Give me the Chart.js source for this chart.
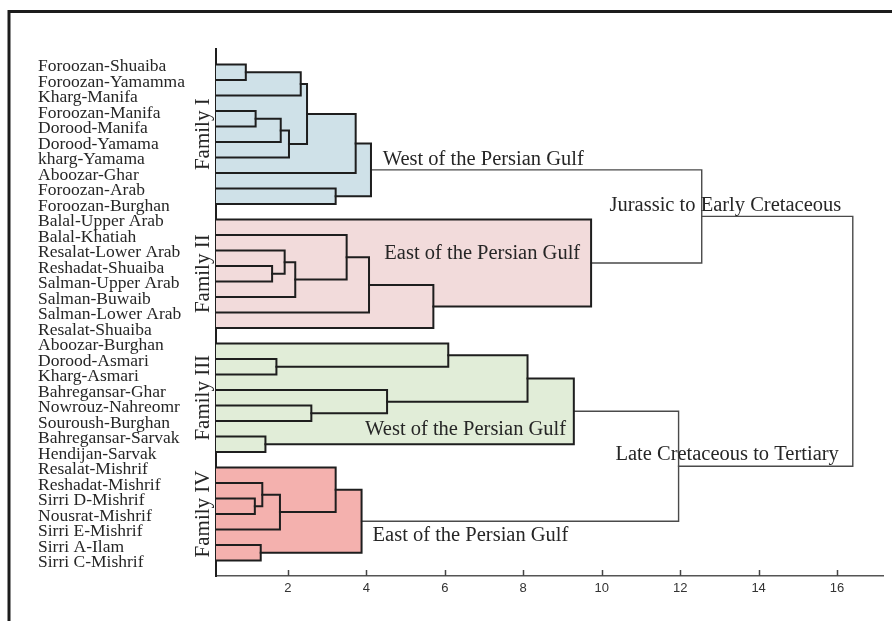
<!DOCTYPE html>
<html><head><meta charset="utf-8">
<script src="https://cdn.jsdelivr.net/npm/chart.js@4.4.1/dist/chart.umd.min.js"></script>
<style>html,body{margin:0;padding:0;background:#fff;}canvas{display:block;}</style>
</head><body>
<canvas id="c" width="892" height="621"></canvas>
<script>
// ---------- data ----------
const leafNames = [
  'Foroozan-Shuaiba','Foroozan-Yamamma','Kharg-Manifa','Foroozan-Manifa','Dorood-Manifa',
  'Dorood-Yamama','kharg-Yamama','Aboozar-Ghar','Foroozan-Arab','Foroozan-Burghan',
  'Balal-Upper Arab','Balal-Khatiah','Resalat-Lower Arab','Reshadat-Shuaiba','Salman-Upper Arab',
  'Salman-Buwaib','Salman-Lower Arab','Resalat-Shuaiba',
  'Aboozar-Burghan','Dorood-Asmari','Kharg-Asmari','Bahregansar-Ghar','Nowrouz-Nahreomr',
  'Souroush-Burghan','Bahregansar-Sarvak','Hendijan-Sarvak',
  'Resalat-Mishrif','Reshadat-Mishrif','Sirri D-Mishrif','Nousrat-Mishrif','Sirri E-Mishrif',
  'Sirri A-Ilam','Sirri C-Mishrif'
];
// merges (ids >= 33 are earlier merges, in order)
const mergePairs = [
  [0,1],[33,2],[3,4],[35,5],[36,6],[34,37],[38,7],[8,9],[39,40],
  [13,14],[12,42],[43,15],[11,44],[45,16],[46,17],[10,47],
  [19,20],[18,49],[22,23],[21,51],[50,52],[24,25],[53,54],
  [28,29],[27,56],[57,30],[26,58],[31,32],[59,60],
  [41,48],[55,61],[62,63]
];
const mergeHeights = [
  0.93,2.33,1.18,1.82,2.03,2.49,3.73,3.22,4.12,
  1.60,1.92,2.19,3.50,4.07,5.71,9.73,
  1.71,6.09,2.60,4.53,8.11,1.43,9.29,
  1.16,1.35,1.80,3.22,1.31,3.88,
  12.55,11.96,16.40
];
const familyNames = ['Family I','Family II','Family III','Family IV'];
const familyFirstLeaf = [0,10,18,26];
const familyLastLeaf = [9,17,25,32];
const noteTexts = ['West of the Persian Gulf','East of the Persian Gulf','Jurassic to Early Cretaceous',
  'West of the Persian Gulf','Late Cretaceous to Tertiary','East of the Persian Gulf'];
const tickValues = [2,4,6,8,10,12,14,16];

// ---------- style / layout ----------
const familyFill = ['#cfe1e8','#f2dbdb','#e1edd8','#f4b1ae'];
const notePlace = [[4.42,6.5],[4.46,12.57],[10.20,9.47],[3.97,23.89],[10.35,25.5],[4.16,30.71]];
const serif = '"Liberation Serif","Times New Roman",serif';

// ---------- build dendrogram ----------
const nLeaf = leafNames.length;
const nodeH = leafNames.map(() => 0);
const nodeY = leafNames.map((_, i) => i);
const nodeLeaves = leafNames.map((_, i) => [i]);
mergePairs.forEach(([a, b], k) => {
  nodeH.push(mergeHeights[k]);
  nodeY.push((nodeY[a] + nodeY[b]) / 2);
  nodeLeaves.push(nodeLeaves[a].concat(nodeLeaves[b]));
});
function familyOf(id) {
  const L = nodeLeaves[id];
  for (let f = 0; f < familyNames.length; f++) {
    if (L.every(i => i >= familyFirstLeaf[f] && i <= familyLastLeaf[f])) return f;
  }
  return -1;
}
const fillSets = [], lineSets = [];
mergePairs.forEach(([a, b], k) => {
  const id = nLeaf + k, h = mergeHeights[k];
  const f = familyOf(id);
  if (f >= 0) {
    fillSets.push({
      data: [{x:0,y:nodeY[a]},{x:h,y:nodeY[a]},{x:h,y:nodeY[b]},{x:0,y:nodeY[b]}],
      showLine: true, fill: 'shape', backgroundColor: familyFill[f],
      borderWidth: 0, pointRadius: 0, order: 2
    });
  }
  lineSets.push({
    data: [{x:nodeH[a],y:nodeY[a]},{x:h,y:nodeY[a]},{x:h,y:nodeY[b]},{x:nodeH[b],y:nodeY[b]}],
    showLine: true, fill: false,
    borderColor: f >= 0 ? '#1e1e1e' : '#4a4a4a',
    borderWidth: f >= 0 ? 2 : 1.4,
    borderJoinStyle: 'miter', borderCapStyle: 'square',
    pointRadius: 0, order: 1
  });
});

const decor = {
  id: 'decor',
  beforeDraw(chart) {
    const ctx = chart.ctx;
    ctx.save();
    ctx.fillStyle = '#fff';
    ctx.fillRect(0, 0, chart.width, chart.height);
    ctx.strokeStyle = '#1c1c1c';
    ctx.lineWidth = 3;
    ctx.beginPath();
    ctx.moveTo(9, chart.height);
    ctx.lineTo(9, 11.5);
    ctx.lineTo(chart.width, 11.5);
    ctx.stroke();
    ctx.restore();
  },
  afterDraw(chart) {
    const ctx = chart.ctx, xs = chart.scales.x, ys = chart.scales.y;
    ctx.save();
    // tick marks (inside)
    ctx.strokeStyle = '#444';
    ctx.lineWidth = 1.5;
    xs.ticks.forEach(t => {
      const px = Math.round(xs.getPixelForValue(t.value)) + 0.5;
      ctx.beginPath();
      ctx.moveTo(px, xs.top - 6);
      ctx.lineTo(px, xs.top);
      ctx.stroke();
    });
    // leaf labels
    ctx.fillStyle = '#262626';
    ctx.font = '17.5px ' + serif;
    ctx.textAlign = 'left';
    ctx.textBaseline = 'alphabetic';
    leafNames.forEach((name, i) => {
      ctx.fillText(name, 38, ys.getPixelForValue(i) + 6.5);
    });
    // family labels
    ctx.font = '21px ' + serif;
    ctx.textAlign = 'center';
    familyNames.forEach((name, f) => {
      const cy = ys.getPixelForValue((familyFirstLeaf[f] + familyLastLeaf[f]) / 2);
      ctx.save();
      ctx.translate(209, cy);
      ctx.rotate(-Math.PI / 2);
      ctx.fillText(name, 0, 0);
      ctx.restore();
    });
    // annotations
    ctx.font = '20.5px ' + serif;
    ctx.textAlign = 'left';
    noteTexts.forEach((t, i) => {
      ctx.fillText(t, xs.getPixelForValue(notePlace[i][0]), ys.getPixelForValue(notePlace[i][1]));
    });
    ctx.restore();
  }
};

new Chart(document.getElementById('c'), {
  type: 'scatter',
  data: { datasets: lineSets.concat(fillSets) },
  options: {
    responsive: false, animation: false, devicePixelRatio: 1,
    layout: { padding: { left: 0, top: 49, right: 9, bottom: 0 } },
    plugins: { legend: { display: false }, tooltip: { enabled: false } },
    scales: {
      x: {
        type: 'linear', min: 0.17, max: 17.17,
        afterBuildTicks: s => { s.ticks = tickValues.map(v => ({ value: v })); },
        afterFit: s => { s.height = 45; },
        grid: { display: false, drawTicks: false },
        border: { display: true, color: '#555', width: 1.5 },
        ticks: { color: '#333', font: { family: '"Liberation Sans", Arial, sans-serif', size: 13 }, padding: 5, maxRotation: 0 }
      },
      y: {
        type: 'linear', reverse: true, min: -1, max: 33,
        afterFit: s => { s.width = 216; },
        grid: { display: false },
        border: { display: true, color: '#1e1e1e', width: 2 },
        ticks: { display: false }
      }
    }
  },
  plugins: [decor]
});
</script>
</body></html>
